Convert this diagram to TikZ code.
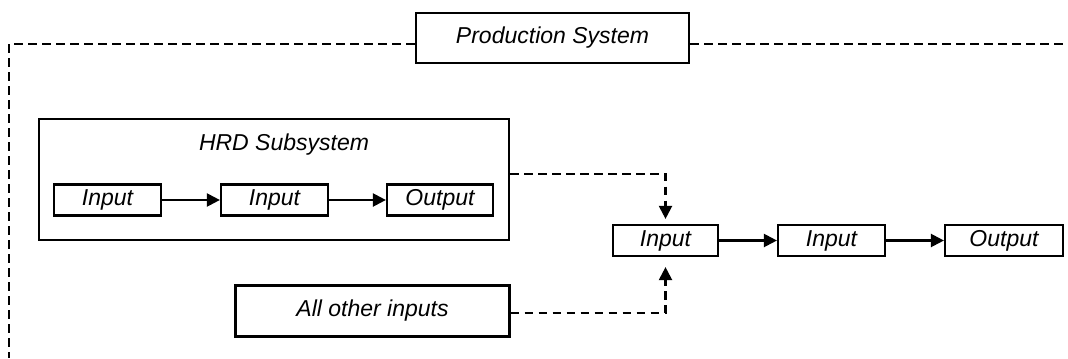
\documentclass[tikz,border=0pt]{standalone}
\usepackage{fontspec}
\setmainfont{Liberation Sans}
\usetikzlibrary{arrows.meta}

\tikzset{
    box/.style={draw, line width=1.1pt, minimum height=15.5pt, inner sep=0pt,
        font=\fontsize{11.5}{13}\selectfont\itshape},
    heading/.style={inner sep=0pt, font=\fontsize{11.5}{13}\selectfont\itshape},
    frame/.style={line width=1.1pt, dash pattern=on 4.25pt off 2.75pt},
    flow/.style={line width=1.1pt, -{Triangle[length=6.5pt,width=6.5pt]}},
}

\begin{document}
\begin{tikzpicture}[x=0.5pt, y=-0.5pt]
    \useasboundingbox (0,0) rectangle (1068,358);

    % Production system frame
    \node[box, minimum width=136.5pt, minimum height=25pt] (ps) at (552.5,38) {Production System};
    \coordinate (pscorner) at (9,44);
    \coordinate (psbottom) at (9,358);
    \coordinate (psright) at (1068,44);
    \draw[frame] (ps.west |- pscorner) -- (pscorner) -- (psbottom);
    \draw[frame] (ps.east |- pscorner) -- (psright);

    % HRD subsystem
    \node[box, minimum width=235pt, minimum height=60.5pt] (hrd) at (274,179.5) {};
    \node[heading] (hrdtitle) at (284,145) {HRD Subsystem};
    \node[box, minimum width=53.5pt] (hrdin1) at (107.5,200) {Input};
    \node[box, minimum width=53.5pt] (hrdin2) at (274.5,200) {Input};
    \node[box, minimum width=53pt] (hrdout) at (440,200) {Output};
    \draw[flow] (hrdin1) -- (hrdin2);
    \draw[flow] (hrdin2) -- (hrdout);

    % All other inputs
    \node[box, minimum width=137pt, minimum height=25.5pt] (other) at (372.5,311) {All other inputs};

    % Main chain
    \node[box, minimum width=52.5pt] (in1) at (665.5,240.5) {Input};
    \node[box, minimum width=53.5pt] (in2) at (831.5,240.5) {Input};
    \node[box, minimum width=59pt] (out) at (1004,240.5) {Output};
    \draw[flow] (in1) -- (in2);
    \draw[flow] (in2) -- (out);

    % Feeds into the chain
    \draw[frame, flow] ([yshift=2.75pt]hrd.east) -| ([yshift=2.5pt]in1.north);
    \draw[frame, flow] ([yshift=-1pt]other.east) -| ([yshift=-5pt]in1.south);
\end{tikzpicture}
\end{document}
